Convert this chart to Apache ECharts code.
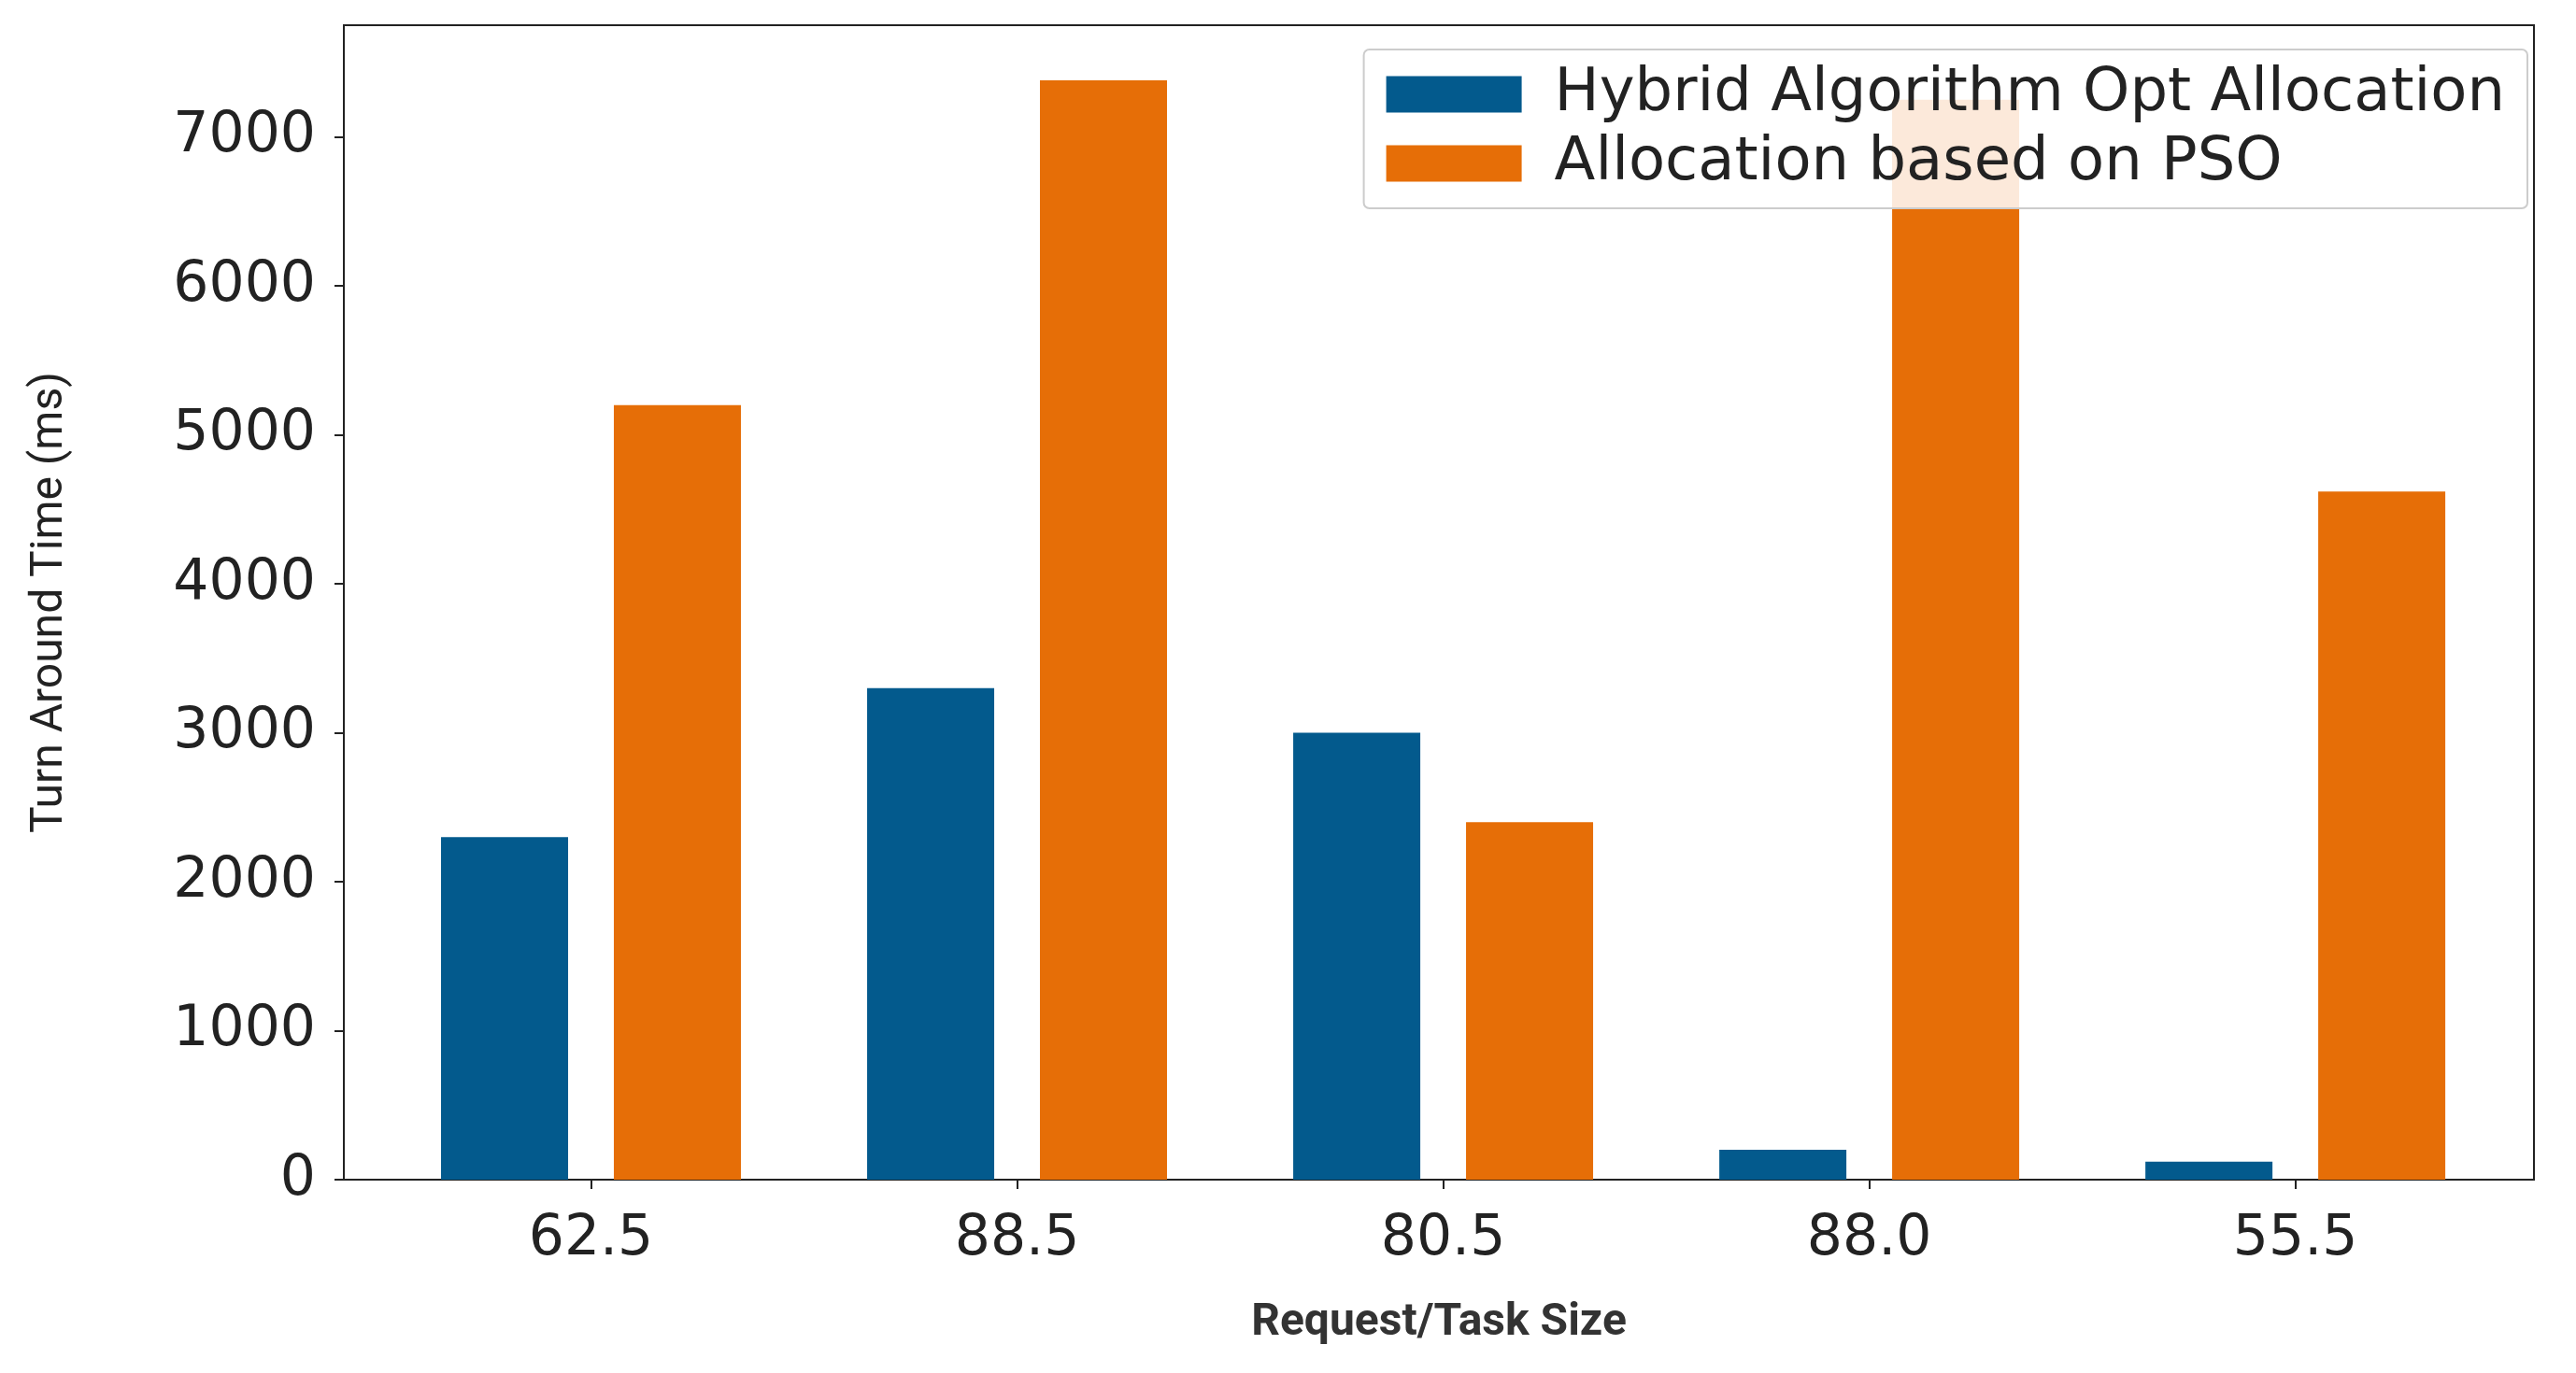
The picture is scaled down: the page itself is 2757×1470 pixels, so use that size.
<!DOCTYPE html>
<html>
<head>
<meta charset="utf-8">
<script src="https://cdn.jsdelivr.net/npm/echarts@6/dist/echarts.min.js"></script>
<style>html,body{margin:0;padding:0;background:#fff}#chart{width:2757px;height:1470px}</style>
</head>
<body>
<div id="chart"></div>
<script>
const categories = ["62.5", "88.5", "80.5", "88.0", "55.5"];
const hybrid = [2300, 3300, 3000, 200, 120];
const pso = [5200, 7380, 2400, 7250, 4620];
const yTicks = [0, 1000, 2000, 3000, 4000, 5000, 6000, 7000];

const chart = echarts.init(document.getElementById("chart"));
const pos = categories.map((c, i) => i);

const options = {
  animation: false,
  grid: { left: 368, right: 45, top: 27, bottom: 207, show: true, borderColor: "#222", borderWidth: 2 },
  legend: {
    right: 52, top: 53, orient: "vertical", icon: "rect",
    backgroundColor: "rgba(255,255,255,0.85)", borderColor: "#ccc", borderWidth: 2, borderRadius: 6,
    padding: [16, 24, 16, 24], itemGap: 10,
    itemWidth: 145, itemHeight: 39,
    textStyle: { fontFamily: "DejaVu Sans", fontSize: 64, color: "#222", padding: [0, 0, 0, 30] },
  },
  xAxis: {
    type: "value", min: -0.58, max: 4.56,
    name: "Request/Task Size", nameLocation: "middle", nameGap: 130,
    nameTextStyle: { fontFamily: "Roboto", fontWeight: "bold", fontSize: 48, color: "#333" },
    splitLine: { show: false },
    axisLine: { onZero: false, lineStyle: { color: "#222", width: 2 } },
    axisTick: { customValues: pos, length: 10, lineStyle: { color: "#222", width: 2 } },
    axisLabel: {
      customValues: pos, margin: 34,
      formatter: v => categories[Math.round(v)],
      fontFamily: "DejaVu Sans", fontSize: 60, color: "#222",
    },
  },
  yAxis: {
    type: "value", min: 0, max: 7750,
    name: "Turn Around Time (ms)", nameLocation: "middle", nameGap: 290,
    nameTextStyle: { fontFamily: "Roboto", fontSize: 48, color: "#222" },
    splitLine: { show: false },
    axisLine: { show: true, onZero: false, lineStyle: { color: "#222", width: 2 } },
    axisTick: { show: true, customValues: yTicks, length: 10, lineStyle: { color: "#222", width: 2 } },
    axisLabel: {
      customValues: yTicks, margin: 30,
      formatter: v => String(v),
      fontFamily: "DejaVu Sans", fontSize: 60, color: "#222",
    },
  },
  series: [
    {
      name: "Hybrid Algorithm Opt Allocation", type: "bar",
      data: hybrid.map((v, i) => [i, v]),
      barWidth: 136, barGap: "36%",
      itemStyle: { color: "#035a8d" },
    },
    {
      name: "Allocation based on PSO", type: "bar",
      data: pso.map((v, i) => [i, v]),
      barWidth: 136, barGap: "36%",
      itemStyle: { color: "#e66e07" },
    },
  ],
};

chart.setOption(options);
</script>
</body>
</html>
